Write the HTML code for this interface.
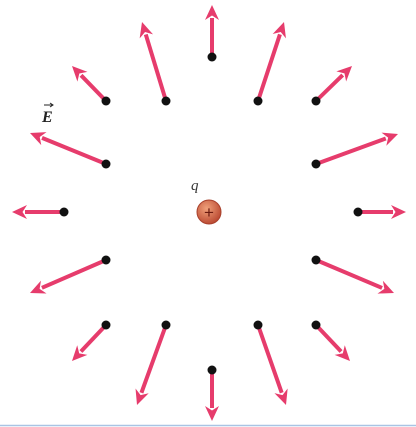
<!DOCTYPE html>
<html><head><meta charset="utf-8"><style>
html,body{margin:0;padding:0;background:#fff;width:416px;height:427px;overflow:hidden}
</style></head><body>
<svg id="c" width="416" height="427" viewBox="0 0 416 427" xmlns="http://www.w3.org/2000/svg">
<defs>
<radialGradient id="g" cx="40%" cy="35%" r="70%"><stop offset="0" stop-color="#f0a07a"/><stop offset="1" stop-color="#b8452e"/></radialGradient>
</defs>
<line x1="0" y1="425.5" x2="416" y2="425.5" stroke="#a9c4e4" stroke-width="1.5"/>
<g id="arrows"></g>
<circle cx="209" cy="212" r="12" fill="url(#g)" stroke="#a8402c" stroke-width="1"/>
<text x="209" y="218" text-anchor="middle" font-family="Liberation Sans, sans-serif" font-size="17" fill="#6a1a10">+</text>
<text x="191" y="190" font-family="Liberation Serif, serif" font-style="italic" font-size="15" fill="#333">q</text>
<text x="42" y="122" font-family="Liberation Serif, serif" font-style="italic" font-weight="bold" font-size="16" fill="#222">E</text>
<path d="M44 105 H53 M50 103 L53 105 L50 107" stroke="#222" stroke-width="1" fill="none"/>
</svg>
<script>
const dotX=[212,258,316,316,358,316,316,258,212,166,106,106,64,106,106,166];
const dotY=[57,101,101,164,212,260,325,325,370,325,325,260,212,164,101,101];
const tipX=[212,284,352,398,406,394,350,286,212,137,72,30,12,30,72,142];
const tipY=[5,22,66,134,212,293,361,405,421,405,361,293,212,133,66,22];
const NS='http://www.w3.org/2000/svg';
const g=document.getElementById('arrows');
for(let i=0;i<dotX.length;i++){
  const x1=dotX[i],y1=dotY[i],x2=tipX[i],y2=tipY[i];
  const dx=x2-x1,dy=y2-y1,L=Math.hypot(dx,dy),ux=dx/L,uy=dy/L;
  const hl=15,hw=7;
  const bx=x2-ux*hl,by=y2-uy*hl;
  const line=document.createElementNS(NS,'line');
  line.setAttribute('x1',x1);line.setAttribute('y1',y1);
  line.setAttribute('x2',bx+ux*2);line.setAttribute('y2',by+uy*2);
  line.setAttribute('stroke','#e63c6c');line.setAttribute('stroke-width','4');
  
  
  g.appendChild(line);
  const head=document.createElementNS(NS,'polygon');
  head.setAttribute('points',`${x2},${y2} ${bx-uy*hw},${by+ux*hw} ${x2-ux*hl*0.7},${y2-uy*hl*0.7} ${bx+uy*hw},${by-ux*hw}`);
  head.setAttribute('fill','#e63c6c');
  
  
  g.appendChild(head);
  const dot=document.createElementNS(NS,'circle');
  dot.setAttribute('cx',x1);dot.setAttribute('cy',y1);dot.setAttribute('r','4.5');
  dot.setAttribute('fill','#111');
  
  
  g.appendChild(dot);
}
</script>
</body></html>
